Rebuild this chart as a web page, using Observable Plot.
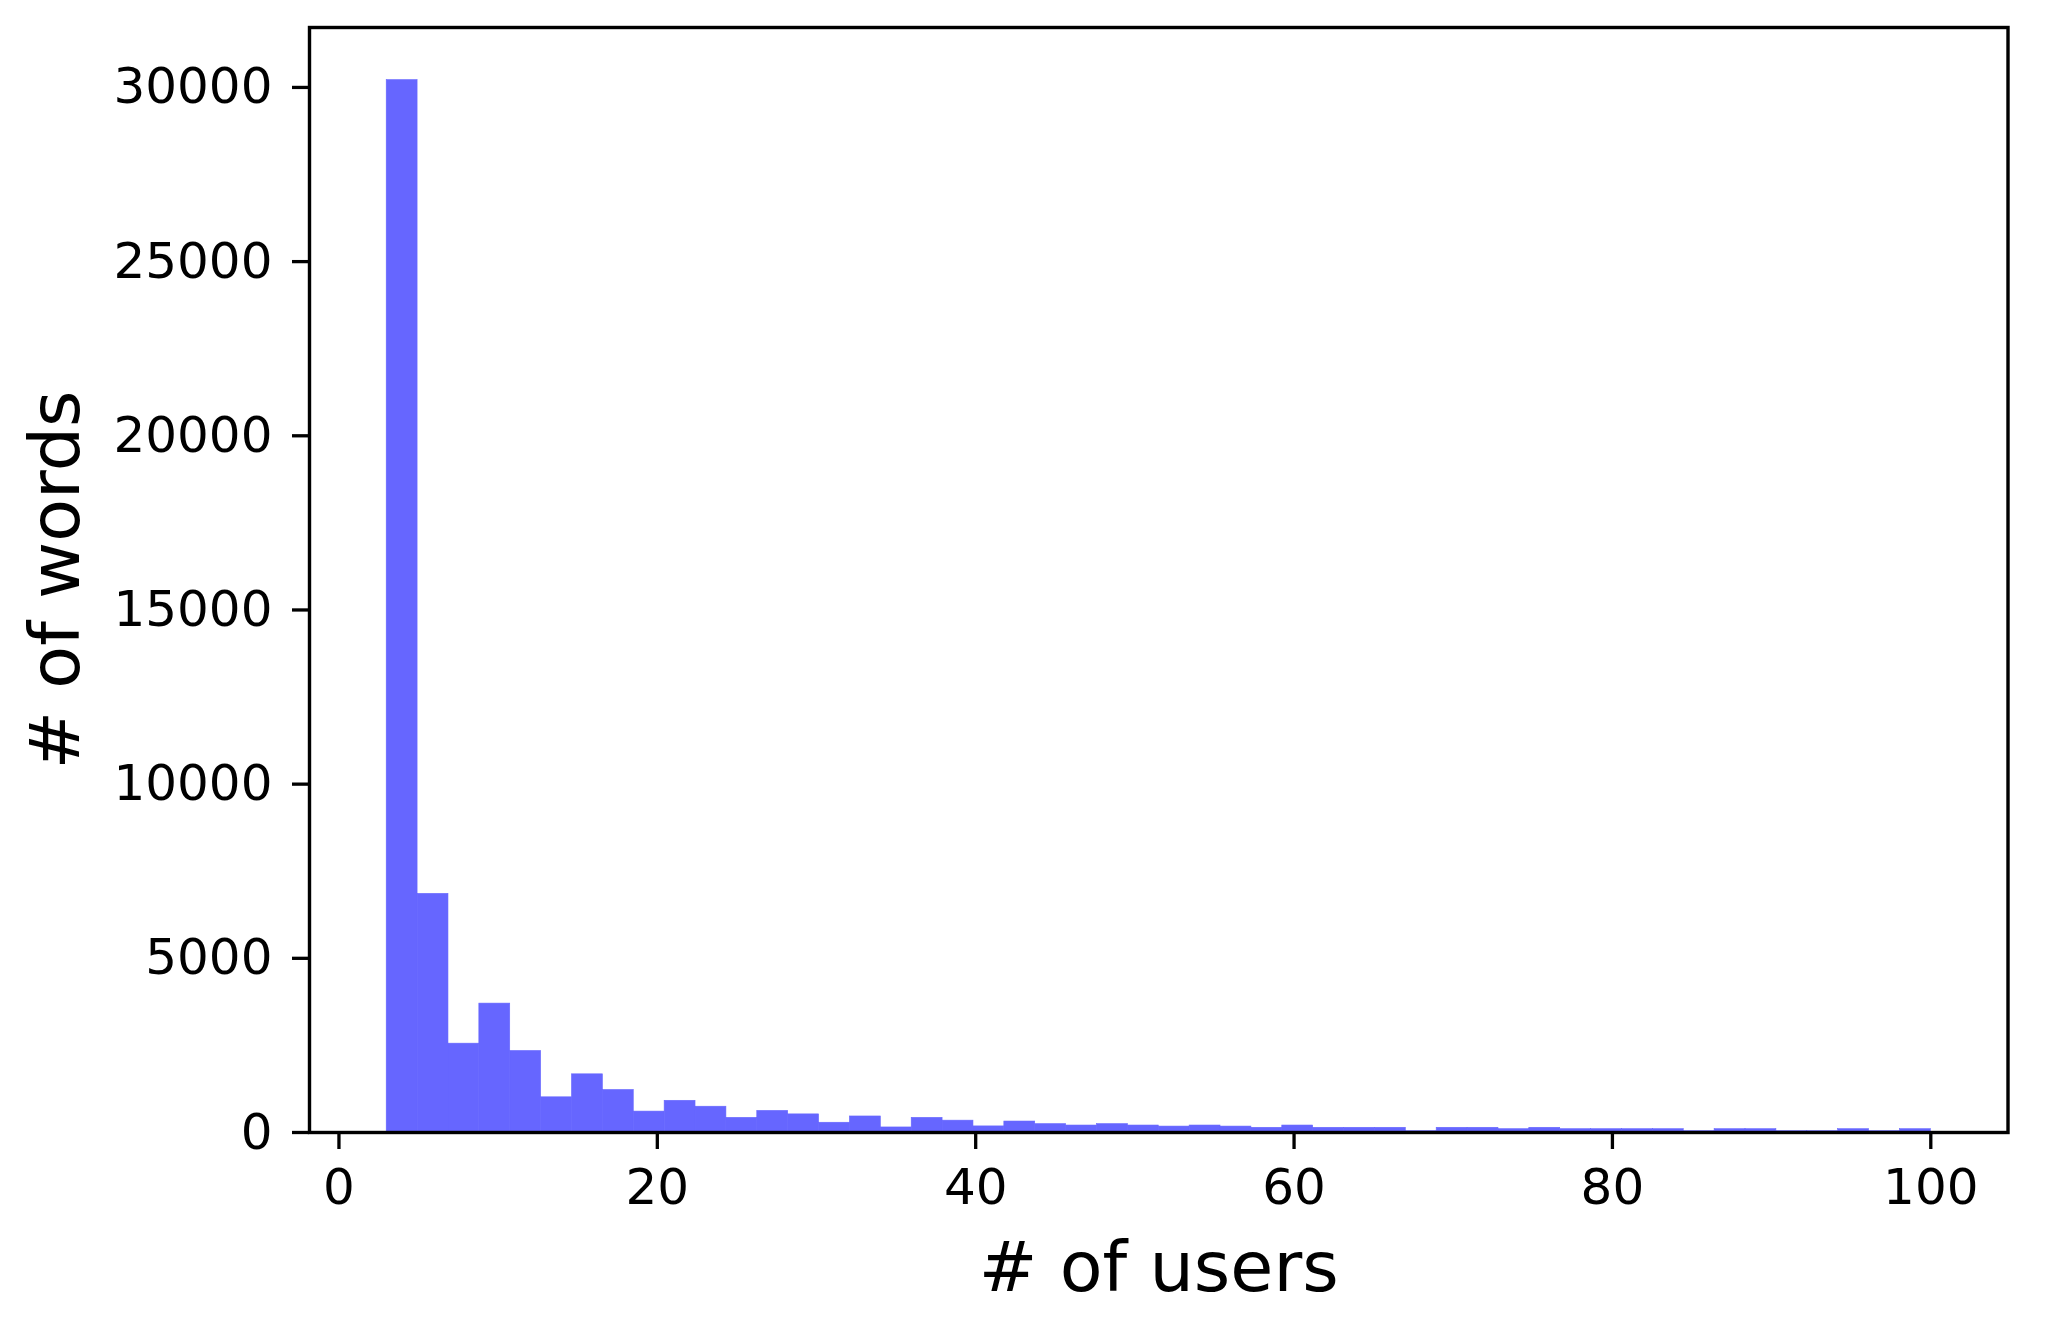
<!DOCTYPE html>
<html>
<head>
<meta charset="utf-8">
<script src="https://cdn.jsdelivr.net/npm/d3@7"></script>
<script src="https://cdn.jsdelivr.net/npm/@observablehq/plot@0.6"></script>
<style>
  html, body { margin: 0; padding: 0; background: #ffffff; }
  #chart svg { display: block; }
</style>
</head>
<body>
<div id="chart"></div>
<script>
// Histogram: 50 equal bins spanning 3 .. 100 "# of users"
const binLo = 3;
const binHi = 100;
const binCount = 50;
// Words per bin
const counts = [
  30210, 6850, 2550, 3700, 2340, 1010, 1670, 1220, 600, 910,
  740, 420, 620, 520, 280, 460, 145, 420, 340, 175,
  315, 240, 200, 240, 200, 170, 200, 170, 135, 200,
  135, 135, 135, 40, 135, 135, 95, 135, 95, 95,
  95, 95, 40, 95, 95, 40, 40, 95, 40, 95
];
const xTicks = [0, 20, 40, 60, 80, 100];
const yTicks = [0, 5000, 10000, 15000, 20000, 25000, 30000];
const xLabel = "# of users";
const yLabel = "# of words";

const binWidth = (binHi - binLo) / binCount;
const bins = counts.map((c, i) => ({
  x1: binLo + i * binWidth,
  x2: binLo + (i + 1) * binWidth,
  count: c
}));
const xPad = (binHi - binLo) * 0.05;
const yMax = d3.max(counts) * 1.05;

const chart = Plot.plot({
  width: 2050,
  height: 1322,
  marginLeft: 309,
  marginRight: 42.5,
  marginTop: 27,
  marginBottom: 190,
  style: {fontFamily: "'DejaVu Sans', sans-serif", fontSize: "50px", background: "#ffffff", color: "#000000"},
  x: {domain: [binLo - xPad, binHi + xPad], label: null},
  y: {domain: [0, yMax], label: null},
  marks: [
    Plot.rectY(bins, {x1: "x1", x2: "x2", y: "count", fill: "#6666ff", stroke: "#6666ff", strokeWidth: 0.6, inset: 0}),
    Plot.frame({stroke: "#000000", strokeWidth: 3.4}),
    Plot.axisX({ticks: xTicks, tickFormat: d => String(d), tickSize: 17, tickPadding: 19, strokeWidth: 3.3, fontSize: 50, label: null}),
    Plot.axisY({ticks: yTicks, tickFormat: d => String(d), tickSize: 17, tickPadding: 20, strokeWidth: 3.3, fontSize: 50, label: null}),
    Plot.text([xLabel], {frameAnchor: "bottom", text: d => d, dy: 158, lineAnchor: "bottom", textAnchor: "middle", fontSize: 70, fill: "#000000"}),
    Plot.text([yLabel], {frameAnchor: "left", text: d => d, dx: -231, rotate: -90, lineAnchor: "bottom", textAnchor: "middle", fontSize: 70, fill: "#000000"})
  ]
});
document.getElementById("chart").appendChild(chart);
</script>
</body>
</html>
